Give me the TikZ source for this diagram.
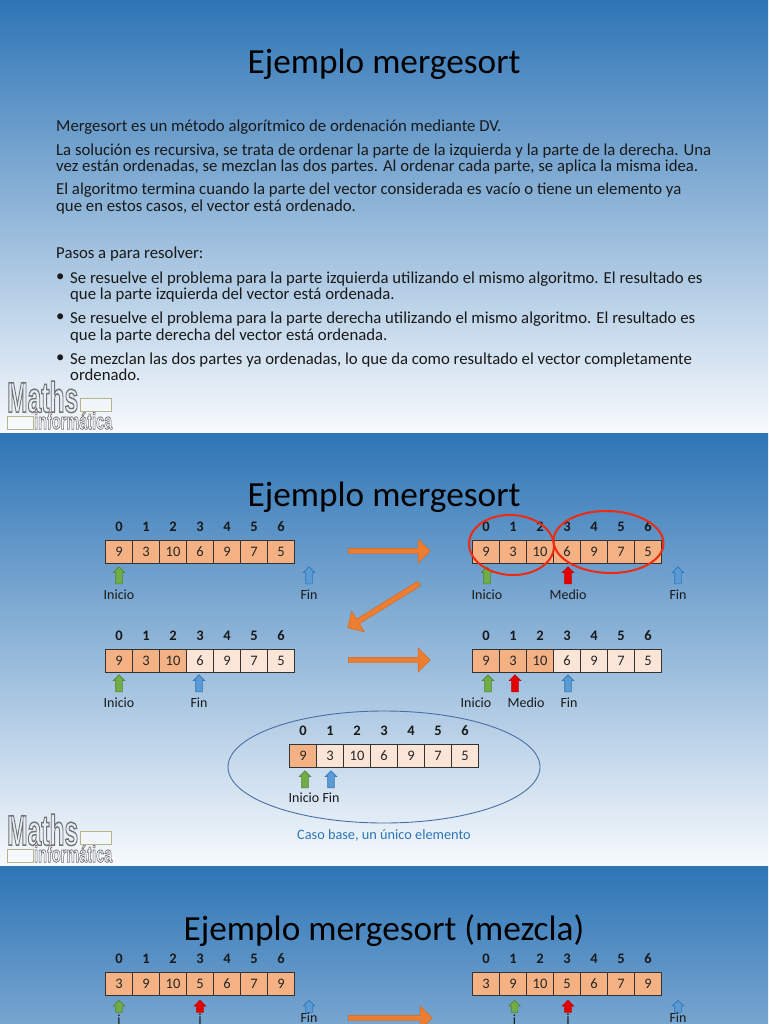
\documentclass[tikz,border=0pt]{standalone}
\usepackage{fontspec}
\usepackage{graphicx}
\setmainfont[Numbers=Lining]{Carlito}
\newfontfamily\logofont{Liberation Sans}
\usetikzlibrary{shapes.arrows,shapes.geometric}
\definecolor{slidetop}{HTML}{2E75B6}
\definecolor{slidebot}{HTML}{F7FAFD}
\definecolor{celldark}{HTML}{F4B183}
\definecolor{celllight}{HTML}{FBE5D6}
\definecolor{arrorange}{HTML}{ED7D31}
\definecolor{grn}{HTML}{70AD47}
\definecolor{blu}{HTML}{5B9BD5}
\definecolor{circred}{HTML}{EE2A10}
\definecolor{ovalblue}{HTML}{4A6FA8}
\definecolor{logoline}{HTML}{B5B48A}
\newcommand{\outl}[1]{\special{pdf:code q 1 Tr 0.35 w 0.45 0.45 0.45 RG}#1\special{pdf:code Q}}
\newcommand{\sshaft}{\rule{0pt}{6pt}}
\newcommand{\lshaft}{\rule{0pt}{5pt}}
\tikzset{
  x=1pt,y=-1pt,
  slidebg/.style={top color=slidetop,bottom color=slidebot,draw=none},
  title/.style={font=\fontsize{35.3}{38}\selectfont,inner sep=0pt,text=black},
  para/.style={font=\fontsize{16.75}{16.6}\selectfont,inner sep=0pt,anchor=north west,align=left,text=black!90},
  cell/.style={draw=black!80,line width=0.9pt,minimum width=27pt,minimum height=23.5pt,inner sep=0pt,font=\fontsize{14.5}{15}\selectfont,text=black!85},
  idx/.style={font=\bfseries\fontsize{14.5}{15}\selectfont,inner sep=0pt,text=black!90},
  lbl/.style={font=\fontsize{14}{15}\selectfont,inner sep=0pt,text=black!90},
  uparrow/.style={single arrow,rotate=90,single arrow head extend=2.5pt,single arrow head indent=0pt,inner sep=0pt,line width=0.6pt},
  garrow/.style={uparrow,fill=grn,draw=grn!75!black},
  rarrow/.style={uparrow,fill=red!90!black,draw=red!75!black},
  barrow/.style={uparrow,fill=blu,draw=slidetop},
  bigarrow/.style={single arrow,single arrow head extend=9.5pt,single arrow head indent=0pt,inner sep=0pt,fill=arrorange,draw=arrorange!85!black,line width=0.4pt},
  ring/.style={draw=circred,line width=2pt,ellipse,inner sep=0pt},
  logobox/.style={draw=logoline,line width=0.9pt,fill=white,fill opacity=0.35},
}
\newcommand{\arr}[5]{% prefix, x0, ytop, values, dark count
  \foreach \v [count=\i from 0] in {#4} {
    \pgfmathsetmacro{\cellcol}{\i<#5 ? "celldark" : "celllight"}
    \node[cell,fill=\cellcol] (#1-c\i) at ({#2+27*\i+13},{#3+11.75}) {\v};
    \node[idx] (#1-i\i) at ({#2+27*\i+13},{#3-13}) {\i};
  }
}
\newcommand{\logo}[2]{% name, y offset
  \node[inner sep=0pt,anchor=north west] (#1-m) at (7,{#2+381}) {\resizebox{71pt}{31pt}{\logofont\bfseries\outl{Maths}}};
  \node[inner sep=0pt,anchor=north west] (#1-i) at (34,{#2+412}) {\resizebox{78pt}{17pt}{\logofont\bfseries\outl{informática}}};
  \draw[logobox] (80,{#2+398}) rectangle (111,{#2+411});
  \draw[logobox] (7,{#2+416}) rectangle (33,{#2+429});
}
\begin{document}
\begin{tikzpicture}
\useasboundingbox (0,0) rectangle (768,1024);
\clip (0,0) rectangle (768,1024);
\shade[slidebg] (0,0) rectangle (768,433);
\shade[slidebg] (0,433) rectangle (768,866);
\shade[slidebg] (0,866) rectangle (768,1299);

% slide 1
\node[title] (t1) at (384,64) {Ejemplo mergesort};
\node[para] (p1) at (56,119.5) {Mergesort es un método algorítmico de ordenación mediante DV.};
\node[para] (p2) at (56,143.5) {La solución es recursiva, se trata de ordenar la parte de la izquierda y la parte de la derecha. Una\\vez están ordenadas, se mezclan las dos partes. Al ordenar cada parte, se aplica la misma idea.};
\node[para] (p3) at (56,183) {El algoritmo termina cuando la parte del vector considerada es vacío o tiene un elemento ya\\que en estos casos, el vector está ordenado.};
\node[para] (p4) at (56,247) {Pasos a para resolver:};
\node[para] (b1) at (56,273.5) {•};
\node[para] (p5) at (70,271.5) {Se resuelve el problema para la parte izquierda utilizando el mismo algoritmo. El resultado es\\que la parte izquierda del vector está ordenada.};
\node[para] (b2) at (56,314) {•};
\node[para] (p6) at (70,312) {Se resuelve el problema para la parte derecha utilizando el mismo algoritmo. El resultado es\\que la parte derecha del vector está ordenada.};
\node[para] (b3) at (56,354.5) {•};
\node[para] (p7) at (70,352.5) {Se mezclan las dos partes ya ordenadas, lo que da como resultado el vector completamente\\ordenado.};
\logo{la}{0}

% slide 2
\node[title] (t2) at (384,497) {Ejemplo mergesort};
\arr{a}{106}{540}{9,3,10,6,9,7,5}{7}
\arr{b}{473}{540}{9,3,10,6,9,7,5}{7}
\arr{c}{106}{649}{9,3,10,6,9,7,5}{3}
\arr{d}{473}{649}{9,3,10,6,9,7,5}{3}
\node[bigarrow,minimum height=82pt] (o1) at (388,551) {\lshaft};
\node[bigarrow,minimum height=84pt,rotate=-148.2] (o2) at (384.5,605) {\lshaft};
\node[bigarrow,minimum height=82pt] (o3) at (388,660) {\lshaft};
\node[garrow,minimum height=17pt] (a-g) at (119,577) {\sshaft};
\node[barrow,minimum height=17pt] (a-b) at (309,577) {\sshaft};
\node[lbl] (a-l1) at (119,594.5) {Inicio};
\node[lbl] (a-l2) at (309,594.5) {Fin};
\node[garrow,minimum height=17pt] (b-g) at (487,577) {\sshaft};
\node[rarrow,minimum height=17pt] (b-r) at (568,577) {\sshaft};
\node[barrow,minimum height=17pt] (b-b) at (678,577) {\sshaft};
\node[lbl] (b-l1) at (487,594.5) {Inicio};
\node[lbl] (b-l2) at (568,594.5) {Medio};
\node[lbl] (b-l3) at (678,594.5) {Fin};
\node[garrow,minimum height=17pt] (c-g) at (119,685) {\sshaft};
\node[barrow,minimum height=17pt] (c-b) at (199,685) {\sshaft};
\node[lbl] (c-l1) at (119,702.5) {Inicio};
\node[lbl] (c-l2) at (199,702.5) {Fin};
\node[garrow,minimum height=17pt] (d-g) at (488,685) {\sshaft};
\node[rarrow,minimum height=17pt] (d-r) at (515,685) {\sshaft};
\node[barrow,minimum height=17pt] (d-b) at (568,685) {\sshaft};
\node[lbl] (d-l1) at (476,702.5) {Inicio};
\node[lbl] (d-l2) at (526,702.5) {Medio};
\node[lbl] (d-l3) at (569,702.5) {Fin};
\node[ring,minimum width=85pt,minimum height=60pt,rotate=-3] (r1) at (511.5,545) {};
\node[ring,minimum width=110pt,minimum height=62pt,rotate=-2] (r2) at (608.5,542) {};
\node[draw=ovalblue,line width=0.9pt,ellipse,minimum width=312pt,minimum height=112pt,inner sep=0pt] (oval) at (384,767) {};
\arr{e}{290}{744}{9,3,10,6,9,7,5}{1}
\node[garrow,minimum height=17pt] (e-g) at (305,781) {\sshaft};
\node[barrow,minimum height=17pt] (e-b) at (331,781) {\sshaft};
\node[lbl] (e-l1) at (304,797.5) {Inicio};
\node[lbl] (e-l2) at (331,797.5) {Fin};
\node[lbl,font=\fontsize{14.3}{15}\selectfont,text=slidetop] (caso) at (384,835.5) {Caso base, un único elemento};
\logo{lb}{433}

% slide 3
\node[title] (t3) at (384,931) {Ejemplo mergesort (mezcla)};
\arr{f}{106}{972}{3,9,10,5,6,7,9}{7}
\arr{g}{473}{972}{3,9,10,5,6,7,9}{7}
\node[bigarrow,minimum height=84pt] (o4) at (389,1018) {\lshaft};
\node[garrow,minimum height=12pt] (f-g) at (119,1008) {\sshaft};
\node[rarrow,minimum height=12pt] (f-r) at (200,1008) {\sshaft};
\node[barrow,minimum height=12pt] (f-b) at (309,1008) {\sshaft};
\node[lbl] (f-l1) at (119,1020) {i};
\node[lbl] (f-l2) at (200,1020) {j};
\node[lbl] (f-l3) at (309,1018) {Fin};
\node[garrow,minimum height=12pt] (g-g) at (514.5,1008) {\sshaft};
\node[rarrow,minimum height=12pt] (g-r) at (568,1008) {\sshaft};
\node[barrow,minimum height=12pt] (g-b) at (678,1008) {\sshaft};
\node[lbl] (g-l1) at (514.5,1020) {i};
\node[lbl] (g-l2) at (568,1020) {j};
\node[lbl] (g-l3) at (678,1018) {Fin};
\end{tikzpicture}
\end{document}
